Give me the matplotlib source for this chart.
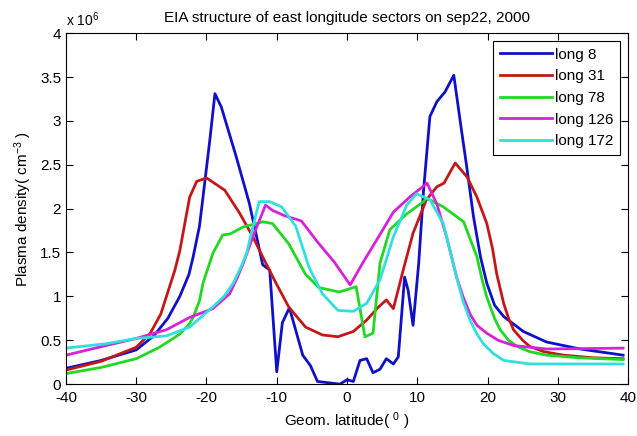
import matplotlib
matplotlib.use('Agg')
import matplotlib.pyplot as plt
from matplotlib.ticker import FormatStrFormatter, MultipleLocator

plt.rcParams['font.family'] = ['Liberation Sans Narrow', 'Liberation Sans', 'DejaVu Sans']
plt.rcParams['mathtext.default'] = 'regular'
plt.rcParams['axes.unicode_minus'] = False

# ── data (plasma density in units of 1e6 cm^-3) ─────────────────
lat_8 = [-40, -35, -30, -27.5, -25.5, -23.8, -22.5, -21.9, -21.0, -20.5, -19.5, -18.8, -17.9,
         -15.8, -13.9, -12.0, -11.0, -10.0, -9.2, -8.2, -6.3, -5.2, -4.2, -1.0, 0.0, 0.9,
         1.85, 2.8, 3.7, 4.7, 5.6, 6.6, 7.3, 8.2, 8.7, 9.4, 10.2, 10.9, 11.8, 12.8, 13.95,
         15.2, 16.3, 17.0, 18.0, 19.0, 19.9, 21.0, 22.3, 25.1, 28.4, 33.2, 39.3]
den_8 = [0.18, 0.27, 0.39, 0.55, 0.75, 1.0, 1.25, 1.45, 1.8, 2.13, 2.8, 3.31, 3.16,
         2.6, 2.06, 1.36, 1.30, 0.14, 0.70, 0.87, 0.33, 0.21, 0.03, 0.0, 0.05, 0.03,
         0.27, 0.29, 0.13, 0.17, 0.29, 0.23, 0.31, 1.22, 1.07, 0.67, 1.37, 2.21, 3.05, 3.22, 3.33,
         3.52, 2.89, 2.5, 1.91, 1.45, 1.15, 0.9, 0.77, 0.60, 0.48, 0.40, 0.33]

lat_31 = [-40, -35, -30, -28.0, -26.5, -25.7, -24.5, -23.8, -22.4, -21.4, -20.0, -17.4,
          -15.3, -13.4, -12.0, -10.1, -8.3, -5.9, -3.5, -1.3, 0.9, 2.8, 4.5, 5.6, 6.6, 8.0,
          9.4, 11.3, 12.8, 13.8, 15.4, 17.1, 18.5, 19.9, 20.7, 21.3, 22.3, 23.0, 23.7, 25.0,
          26.0, 28.0, 30.8, 35.0, 39.3]
den_31 = [0.16, 0.26, 0.42, 0.58, 0.8, 1.0, 1.3, 1.52, 2.13, 2.31, 2.35, 2.21,
          1.95, 1.68, 1.45, 1.15, 0.88, 0.65, 0.56, 0.54, 0.60, 0.73, 0.88, 0.96, 0.86, 1.30,
          1.72, 2.10, 2.25, 2.29, 2.52, 2.36, 2.13, 1.83, 1.55, 1.26, 0.92, 0.75, 0.62, 0.5,
          0.43, 0.37, 0.33, 0.30, 0.29]

lat_78 = [-40, -35, -30, -26.7, -23.8, -22.5, -21.9, -21.0, -20.5, -19.1, -17.7, -16.7,
          -14.8, -12.0, -10.6, -8.3, -5.9, -4.0, -1.1, 1.3, 2.55, 3.7, 4.7, 6.1, 8.5,
          10.9, 11.3, 13.7, 16.6, 18.5, 19.2, 19.9, 21.0, 21.8, 23.0, 24.2, 26.0, 28.4,
          33.0, 39.3]
den_78 = [0.12, 0.19, 0.29, 0.42, 0.57, 0.68, 0.76, 0.95, 1.15, 1.49, 1.70, 1.71,
          1.79, 1.85, 1.83, 1.60, 1.25, 1.10, 1.05, 1.11, 0.54, 0.58, 1.38, 1.76, 1.94,
          2.08, 2.12, 2.02, 1.85, 1.45, 1.2, 0.99, 0.75, 0.62, 0.5, 0.43, 0.37, 0.33,
          0.30, 0.28]

lat_126 = [-40, -34.3, -30, -25.7, -22.4, -19.1, -16.7, -15.7, -14.8, -13.4, -11.6, -10.6,
           -8.9, -6.5, -4.2, -1.8, 0.45, 2.3, 4.2, 6.6, 8.9, 11.4, 12.8, 14.2, 15.6, 16.5,
           17.5, 18.5, 19.9, 21.5, 23.7, 28.4, 39.3]
den_126 = [0.33, 0.44, 0.52, 0.62, 0.76, 0.86, 1.03, 1.2, 1.37, 1.68, 2.04, 1.98,
           1.92, 1.86, 1.62, 1.39, 1.13, 1.39, 1.64, 1.96, 2.13, 2.29, 2.05, 1.67, 1.22, 1.0,
           0.80, 0.67, 0.58, 0.5, 0.44, 0.40, 0.41]

lat_172 = [-40, -34.3, -30, -25.7, -22.4, -19.1, -17.5, -16.2, -15.0, -14.3, -13.4, -12.5,
           -11.0, -9.3, -7.3, -5.4, -3.5, -1.3, 0.9, 2.8, 4.7, 6.6, 8.5, 9.9, 11.8, 13.7,
           15.6, 16.5, 17.5, 18.5, 19.4, 20.8, 22.3, 26.0, 39.3]
den_172 = [0.41, 0.46, 0.52, 0.55, 0.65, 0.88, 1.0, 1.15, 1.35, 1.49, 1.79, 2.08,
           2.08, 2.02, 1.80, 1.33, 1.03, 0.84, 0.83, 0.92, 1.19, 1.68, 2.04, 2.17, 2.10, 1.83,
           1.22, 0.95, 0.73, 0.57, 0.46, 0.35, 0.27, 0.23, 0.23]

series = [
    ('long 8', lat_8, den_8, '#1010c8'),
    ('long 31', lat_31, den_31, '#c41818'),
    ('long 78', lat_78, den_78, '#22d822'),
    ('long 126', lat_126, den_126, '#d822d8'),
    ('long 172', lat_172, den_172, '#33dede'),
]

fig = plt.figure(figsize=(6.37, 4.36), dpi=100)
ax = fig.add_axes([0.1036, 0.119, 0.8823, 0.805])

for name, lat, den, col in series:
    ax.plot(lat, den, color=col, lw=2, label=name)

ax.set_xlim(-40, 40)
ax.set_ylim(0, 4)
ax.xaxis.set_major_locator(MultipleLocator(10))
ax.yaxis.set_major_locator(MultipleLocator(0.5))
ax.yaxis.set_major_formatter(FormatStrFormatter('%g'))
ax.tick_params(direction='in', top=True, right=True, labelsize=11, length=5)
ax.tick_params(axis='x', pad=5)
for s in ax.spines.values():
    s.set_linewidth(0.8)

ax.set_title('EIA structure of east longitude sectors on sep22, 2000', fontsize=11, pad=8)
ax.set_xlabel('Geom. latitude( $^{0}$ )', fontsize=11)
ax.set_ylabel('Plasma density( cm$^{-3}$ )', fontsize=11)
ax.text(0.0, 1.012, 'x 10$^{6}$', transform=ax.transAxes, fontsize=10, ha='left', va='bottom')

leg = ax.legend(loc='upper right', fontsize=11, handlelength=3.4, fancybox=False,
                framealpha=1, edgecolor='black', borderpad=0.45, labelspacing=0.5,
                handletextpad=0.2, borderaxespad=0.5)
leg.get_frame().set_linewidth(0.8)

plt.savefig('out.png', dpi=100, facecolor='white')
plt.close()
